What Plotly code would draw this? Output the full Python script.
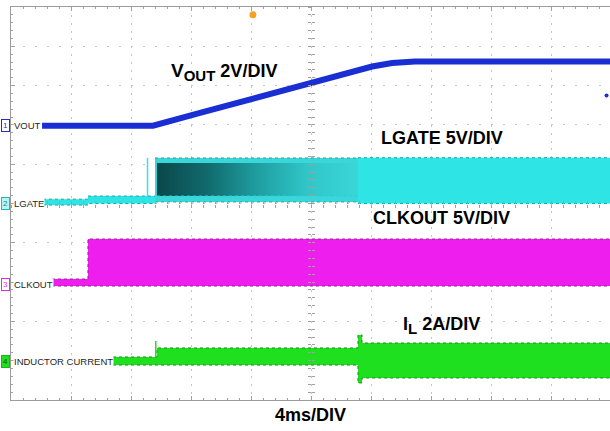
import plotly.graph_objects as go

# time base: 4 ms/div, 10 divisions (screen cropped just before the last line)
t_end = 39.93

# channel 1: VOUT, 2 V/div, ground at 6.98 div
vout_offset = 6.98
vout_scale = 2.0
vout_t = [2.07, 9.47, 12.6, 15.93, 20.0, 22.6, 24.07, 25.4, 26.93, 39.93]
vout_v = [0.0, 0.0, 0.65, 1.33, 2.17, 2.71, 3.01, 3.19, 3.27, 3.27]
vout_dot_t = [39.7]
vout_dot_v = [1.53]

# channel 2: LGATE, 5 V/div, ground at 5.0 div (envelope of the switching waveform)
lgate_offset = 5.0
lgate_scale = 5.0
lgate_base_start = [2.13, 5.13]
lgate_base_end = [5.13, 9.6]
lgate_base_lo = [-0.2, 0.0]
lgate_base_hi = [0.55, 0.95]
lgate_spike_t = [9.1, 9.1]
lgate_spike_v = [0.95, 5.79]
lgate_soft_start = [9.6]
lgate_soft_end = [23.13]
lgate_soft_lo = [0.2]
lgate_soft_hi = [5.79]
lgate_dark_start = [9.73]
lgate_dark_end = [23.13]
lgate_dark_lo = [0.95]
lgate_dark_hi = [5.15]
lgate_run_start = [23.13]
lgate_run_end = [39.93]
lgate_run_lo = [0.0]
lgate_run_hi = [5.83]

# channel 3: CLKOUT, 5 V/div, ground at 2.95 div
clk_offset = 2.95
clk_scale = 5.0
clk_start = [2.73, 5.13]
clk_end = [5.13, 39.93]
clk_lo = [-0.25, -0.25]
clk_hi = [0.64, 5.73]

# channel 4: inductor current, 2 A/div, zero at 0.97 div
il_offset = 0.97
il_scale = 2.0
il_start = [6.8, 9.73, 23.13, 23.4]
il_end = [9.73, 23.13, 23.4, 39.93]
il_lo = [-0.16, -0.16, -1.07, -0.82]
il_hi = [0.25, 0.71, 1.37, 0.96]
il_spike_t = [9.65, 9.65]
il_spike_v = [0.25, 1.06]

trigger_t = 16.13

blue = "#1a2fd3"
cyan = "#2fe4e4"
cyan_soft = "#3ad6d8"
magenta = "#ee1fee"
green = "#1fe01f"


def steps(start, end, vals):
    xs, ys = [], []
    for a, b, v in zip(start, end, vals):
        xs += [a, b]
        ys += [v, v]
    return xs, ys


def band(fig, start, end, lo, hi, color, edge, yaxis, gradient=None):
    x, ylo = steps(start, end, lo)
    _, yhi = steps(start, end, hi)
    fig.add_trace(go.Scatter(x=x, y=ylo, mode="lines", yaxis=yaxis,
                             line=dict(color=edge, width=1, dash="dot"),
                             hoverinfo="skip"))
    upper = dict(x=x, y=yhi, mode="lines", yaxis=yaxis, fill="tonexty",
                 line=dict(color=edge, width=1, dash="dot"), hoverinfo="skip")
    if gradient:
        upper["fillgradient"] = dict(type="horizontal", colorscale=gradient)
        upper["line"] = dict(width=0)
    else:
        upper["fillcolor"] = color
    fig.add_trace(go.Scatter(**upper))


fig = go.Figure()

# LGATE
band(fig, lgate_base_start, lgate_base_end, lgate_base_lo, lgate_base_hi, cyan, "#1aa8ab", "y3")
fig.add_trace(go.Scatter(x=lgate_spike_t, y=lgate_spike_v, mode="lines", yaxis="y3",
                         line=dict(color=cyan, width=1.5), hoverinfo="skip"))
band(fig, lgate_soft_start, lgate_soft_end, lgate_soft_lo, lgate_soft_hi, cyan_soft, "#1aa8ab", "y3")
band(fig, lgate_dark_start, lgate_dark_end, lgate_dark_lo, lgate_dark_hi, None, None, "y3",
     gradient=[[0, "#0a474a"], [0.25, "#116a6d"], [0.5, "#1f9ea1"],
               [0.75, "#30c6c8"], [1, cyan_soft]])
band(fig, lgate_run_start, lgate_run_end, lgate_run_lo, lgate_run_hi, cyan, "#1aa8ab", "y3")

# CLKOUT
band(fig, clk_start, clk_end, clk_lo, clk_hi, magenta, "#a8159f", "y4")

# inductor current
band(fig, il_start, il_end, il_lo, il_hi, green, "#159015", "y5")
fig.add_trace(go.Scatter(x=il_spike_t, y=il_spike_v, mode="lines", yaxis="y5",
                         line=dict(color=green, width=1.5), hoverinfo="skip"))

# VOUT
fig.add_trace(go.Scatter(x=vout_t, y=vout_v, mode="lines", yaxis="y2",
                         line=dict(color=blue, width=6), hoverinfo="skip"))
fig.add_trace(go.Scatter(x=vout_dot_t, y=vout_dot_v, mode="markers", yaxis="y2",
                         marker=dict(color=blue, size=4), hoverinfo="skip"))

# trigger position marker
fig.add_trace(go.Scatter(x=[trigger_t], y=[9.8], mode="markers",
                         marker=dict(color="#f3a322", size=7, symbol="circle"),
                         hoverinfo="skip", cliponaxis=False))

# empty traces so the centre cross axes get drawn
fig.add_trace(go.Scatter(x=[], y=[], xaxis="x2", yaxis="y6"))
fig.add_trace(go.Scatter(x=[], y=[], xaxis="x3", yaxis="y7"))


def chan_range(offset, scale):
    return [-offset * scale, (10 - offset) * scale]


tickc = "#a0a0a0"
fig.update_layout(
    width=610, height=431,
    margin=dict(l=11, r=0, t=7, b=31, autoexpand=False),
    paper_bgcolor="white", plot_bgcolor="white",
    showlegend=False,
    xaxis=dict(range=[0, t_end], tick0=0, dtick=4, showticklabels=False,
               showgrid=True, gridcolor="#c4c4c4", griddash="2px,5.86px",
               zeroline=False, showline=True, linecolor="#9c9c9c", mirror="ticks",
               ticks="inside", ticklen=4, tickcolor=tickc,
               minor=dict(dtick=0.8, ticks="inside", ticklen=2, tickcolor=tickc),
               fixedrange=True),
    yaxis=dict(range=[0, 10], tick0=0, dtick=1, showticklabels=False,
               showgrid=True, gridcolor="#c4c4c4", griddash="2px,10px",
               zeroline=False, showline=True, linecolor="#9c9c9c",
               ticks="inside", ticklen=4, tickcolor=tickc,
               minor=dict(dtick=0.2, ticks="inside", ticklen=2, tickcolor=tickc),
               fixedrange=True),
    yaxis2=dict(overlaying="y", range=chan_range(vout_offset, vout_scale), visible=False),
    yaxis3=dict(overlaying="y", range=chan_range(lgate_offset, lgate_scale), visible=False),
    yaxis4=dict(overlaying="y", range=chan_range(clk_offset, clk_scale), visible=False),
    yaxis5=dict(overlaying="y", range=chan_range(il_offset, il_scale), visible=False),
    # centre cross ticks
    xaxis2=dict(overlaying="x", anchor="free", position=0.5, range=[0, t_end],
                tick0=0, dtick=0.8, ticks="inside", ticklen=3, tickcolor=tickc,
                showticklabels=False, showgrid=False, zeroline=False, showline=False),
    xaxis3=dict(overlaying="x", anchor="free", position=0.5, range=[0, t_end],
                tick0=0, dtick=0.8, ticks="outside", ticklen=3, tickcolor=tickc,
                showticklabels=False, showgrid=False, zeroline=False, showline=False),
    yaxis6=dict(overlaying="y", anchor="free", position=20 / t_end, range=[0, 10],
                tick0=0, dtick=0.2, ticks="inside", ticklen=3, tickcolor=tickc,
                showticklabels=False, showgrid=False, zeroline=False, showline=False),
    yaxis7=dict(overlaying="y", anchor="free", position=20 / t_end, range=[0, 10],
                tick0=0, dtick=0.2, ticks="outside", ticklen=3, tickcolor=tickc,
                showticklabels=False, showgrid=False, zeroline=False, showline=False),
)

# channel labels at the left edge
ch_names = ["VOUT", "LGATE", "CLKOUT", "INDUCTOR CURRENT"]
ch_numbers = ["1", "2", "3", "4"]
ch_offsets = [vout_offset, lgate_offset, clk_offset, il_offset]
ch_colors = [blue, "#20b8bc", magenta, "#18b818"]
ch_fills = ["white", "#b8f4f4", "white", green]
ch_numcolors = [blue, "#138a8c", magenta, "#124a12"]
for name, num, off, col, bg, nc in zip(ch_names, ch_numbers, ch_offsets,
                                       ch_colors, ch_fills, ch_numcolors):
    fig.add_annotation(x=-0.0165, y=off / 10, xref="paper", yref="paper",
                       text=num, showarrow=False, xanchor="left", yanchor="middle",
                       font=dict(family="Liberation Sans", size=8, color=nc),
                       bgcolor=bg, bordercolor=col, borderwidth=1, borderpad=1)
    fig.add_annotation(x=0.004, y=off / 10, xref="paper", yref="paper",
                       text=name, showarrow=False, xanchor="left", yanchor="middle",
                       font=dict(family="Liberation Sans", size=9.5, color="#262626"),
                       bgcolor="white", borderpad=0)

big = dict(family="Liberation Sans", size=18, color="black")
titles = [
    ('<b><span style="font-size:19px">V</span><sub><span style="font-size:15px">OUT</span></sub> 2V/DIV</b>',
     0.355, 0.835),
    ("<b>LGATE 5V/DIV</b>", 0.7195, 0.667),
    ("<b>CLKOUT 5V/DIV</b>", 0.7195, 0.463),
    ('<b>I<sub><span style="font-size:15px">L</span></sub> 2A/DIV</b>', 0.718, 0.19),
    ("<b>4ms/DIV</b>", 0.5008, -0.038),
]
for text, x, y in titles:
    fig.add_annotation(x=x, y=y, xref="paper", yref="paper", showarrow=False,
                       xanchor="center", yanchor="middle", text=text, font=big)

# the page's default body margin would push the 610x431 figure off the window
fig.write_html("out.html", config={"displayModeBar": False},
               post_script="document.body.style.margin='0';"
                           "document.body.style.overflow='hidden';")
